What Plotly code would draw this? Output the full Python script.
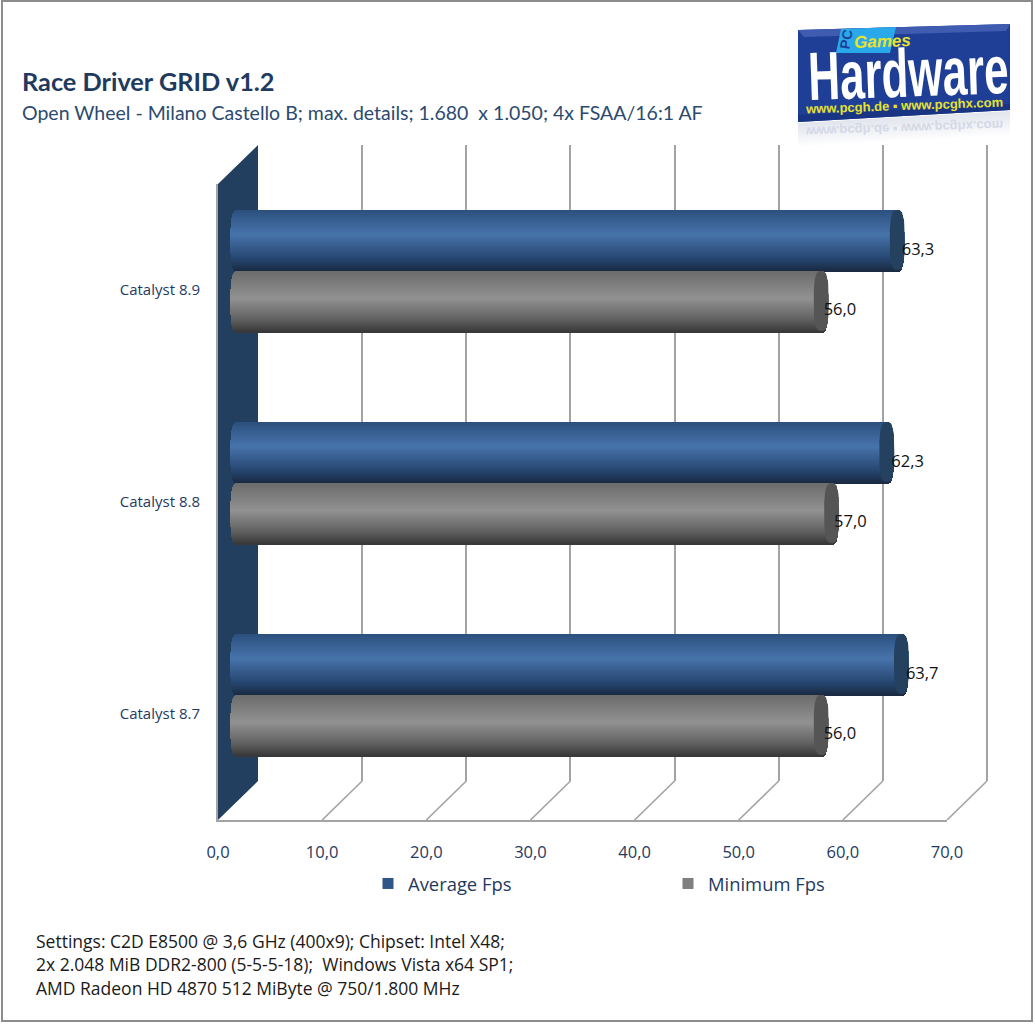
import numpy as np
import plotly.graph_objects as go

W, H = 1035, 1024
categories = ["Catalyst 8.7", "Catalyst 8.8", "Catalyst 8.9"]
average_fps = [63.7, 62.3, 63.3]
minimum_fps = [56.0, 57.0, 56.0]
x_ticks = [0, 10, 20, 30, 40, 50, 60, 70]
x_tick_labels = ["0,0", "10,0", "20,0", "30,0", "40,0", "50,0", "60,0", "70,0"]
title = "Race Driver GRID v1.2"
subtitle = "Open Wheel - Milano Castello B; max. details; 1.680  x 1.050; 4x FSAA/16:1 AF"
settings = ["Settings: C2D E8500 @ 3,6 GHz (400x9); Chipset: Intel X48;",
            "2x 2.048 MiB DDR2-800 (5-5-5-18);  Windows Vista x64 SP1;",
            "AMD Radeon HD 4870 512 MiByte @ 750/1.800 MHz"]

NAVY = "#1f3a5f"
GRID = "#a3a3a3"
X0, X1, Y0, Y1 = 218, 947, 820, 184   # front plane, pixels
DX3, DY3 = 40, 39                     # depth of the 3D box
PXX = (X1 - X0) / 70
PXY = (Y0 - Y1) / 3


def px(x, y):
    return x / W, 1 - y / H


def dom(shift_x, shift_y, pad=0, extra=0):
    return ([(X0 + shift_x - pad * PXX) / W, (X1 + shift_x + extra * PXX) / W],
            [1 - (Y0 - shift_y) / H, 1 - (Y1 - shift_y) / H])


def path(points):
    return "M" + " L".join(f"{px(a, b)[0]:.5f},{px(a, b)[1]:.5f}" for a, b in points) + " Z"


def lerp_stops(t, stops):
    xs = [s[0] for s in stops]
    return "rgb(%d,%d,%d)" % tuple(np.interp(t, xs, [s[1][i] for s in stops]) for i in range(3))


BLUE = [(0, (44, 80, 126)), (.4, (72, 116, 172)), (.8, (38, 70, 112)), (1, (26, 42, 66))]
GRAY = [(0, (108, 108, 108)), (.45, (146, 146, 146)), (.8, (96, 96, 96)), (1, (56, 56, 56))]
BAR_PX = 61
RX = 7.5 / PXX
N = BAR_PX


def cylinder(values, side, stops, cap):
    """One horizontal bar trace, stacked from thin shaded slices, plus end caps."""
    ys, xs, bases, cols = [], [], [], []
    for i, v in enumerate(values):
        centre = i + side * (BAR_PX / 2) / PXY
        for k in range(N):
            t = (k + .5) / N                       # 0 = top of the bar
            u = abs(2 * t - 1)
            bulge = RX * (1 - u ** 3) ** (1 / 3)
            ys.append(centre + (BAR_PX / 2 - (k + .5)) / PXY)
            bases.append(-bulge)
            xs.append(v + 2 * bulge)
            cols.append(lerp_stops(t, stops))
    out = [go.Bar(orientation="h", y=ys, x=xs, base=bases, width=1.6 / PXY,
                  marker=dict(color=cols, line=dict(width=0)), xaxis="x3", yaxis="y3",
                  showlegend=False, hoverinfo="skip", cliponaxis=False)]
    theta = np.linspace(0, 2 * np.pi, 90)
    for i, v in enumerate(values):
        centre = i + side * (BAR_PX / 2) / PXY
        cx = v + RX * np.sign(np.cos(theta)) * np.abs(np.cos(theta)) ** (2 / 3)
        cy = centre + (BAR_PX / 2 - .5) / PXY * np.sign(np.sin(theta)) * np.abs(np.sin(theta)) ** (2 / 3)
        out.append(go.Scatter(x=cx, y=cy, fill="toself", fillcolor=cap, mode="lines",
                              line=dict(width=0, color=cap), xaxis="x3", yaxis="y3",
                              showlegend=False, hoverinfo="skip", cliponaxis=False))
    return out


fig = go.Figure()

# invisible carriers, so that the back-plane grid and the front-plane axes are drawn
fig.add_trace(go.Scatter(x=[0], y=[0], mode="markers", marker=dict(opacity=0),
                         showlegend=False, hoverinfo="skip"))
fig.add_trace(go.Scatter(x=[0], y=[0], mode="markers", marker=dict(opacity=0), xaxis="x2",
                         yaxis="y2", showlegend=False, hoverinfo="skip"))

# floor diagonals, on a hidden axis with the front plane's scale and room for the depth
dxd, dyd = DX3 / PXX, DY3 / PXY
diag_x, diag_y = [], []
for t in x_ticks[1:]:
    diag_x += [t, t + dxd, None]
    diag_y += [-.5, -.5 + dyd, None]
fig.add_trace(go.Scatter(x=diag_x, y=diag_y, mode="lines", xaxis="x4", yaxis="y4",
                         line=dict(color=GRID, width=1.6), showlegend=False,
                         hoverinfo="skip", cliponaxis=False))

for tr in cylinder(average_fps, 1, BLUE, "#24415f"):
    fig.add_trace(tr)
for tr in cylinder(minimum_fps, -1, GRAY, "#555555"):
    fig.add_trace(tr)

# value labels
for vals, off, gap in ((average_fps, 19.5, 4.5), (minimum_fps, -40.5, 2.5)):
    fig.add_trace(go.Scatter(
        x=[v + gap / PXX for v in vals], y=[i + off / PXY for i in range(3)], mode="text",
        text=[f"{v:.1f}".replace(".", ",") for v in vals], textposition="middle right",
        textfont=dict(family="Open Sans", size=16.5, color="#111111"),
        xaxis="x3", yaxis="y3", showlegend=False, hoverinfo="skip", cliponaxis=False))

# legend entries
for nm, col in (("Average Fps", "#2f5687"), ("Minimum Fps", "#7f7f7f")):
    fig.add_trace(go.Scatter(x=[None], y=[None], mode="markers", name=nm,
                             marker=dict(symbol="square", size=11, color=col)))

xb, yb = dom(DX3, DY3, extra=.5)
xf, yf = dom(0, 0)
xm, ym = dom(20, 19.5, pad=2)
xd, yd = dom(0, 0, extra=5)
tickfont = dict(family="Open Sans", size=16.5, color=NAVY)
hidden = dict(visible=False, fixedrange=True)
fig.update_layout(
    width=W, height=H, autosize=False, margin=dict(l=0, r=0, t=0, b=0, autoexpand=False),
    paper_bgcolor="white", plot_bgcolor="rgba(0,0,0,0)", barmode="overlay", bargap=0,
    xaxis=dict(domain=xb, range=[0, 70.5], tickvals=x_ticks, showgrid=True, gridcolor=GRID,
               gridwidth=1.8, showticklabels=False, zeroline=False, ticks="", anchor="y"),
    yaxis=dict(domain=yb, range=[-.5, 2.5], visible=False, anchor="x"),
    xaxis2=dict(domain=xf, range=[0, 70], tickvals=x_ticks, ticktext=x_tick_labels,
                tickfont=tickfont, showgrid=False, showline=True, linecolor=GRID, linewidth=2,
                zeroline=False, ticks="", anchor="y2", ticklabelstandoff=16),
    yaxis2=dict(domain=yf, range=[-.5, 2.5], tickvals=[0, 1, 2], ticktext=categories,
                tickfont=dict(family="Open Sans", size=15, color=NAVY), showgrid=False,
                showline=True, linecolor=GRID, linewidth=2, zeroline=False, ticks="",
                anchor="x2", ticklabelstandoff=13),
    xaxis3=dict(domain=xm, range=[-2, 70], anchor="y3", **hidden),
    yaxis3=dict(domain=ym, range=[-.5, 2.5], anchor="x3", **hidden),
    xaxis4=dict(domain=xd, range=[0, 75], anchor="y4", **hidden),
    yaxis4=dict(domain=yd, range=[-.5, 2.5], anchor="x4", **hidden),
    legend=dict(orientation="h", x=368 / W, y=1 - 865 / H, xanchor="left", yanchor="top",
                entrywidth=255, entrywidthmode="pixels", itemwidth=30,
                font=dict(family="Open Sans", size=18.4, color=NAVY),
                bgcolor="rgba(0,0,0,0)"),
    showlegend=True,
)

shapes = []
# frame
shapes.append(dict(type="rect", xref="paper", yref="paper", x0=px(2, 0)[0], x1=px(1032, 0)[0],
                   y0=px(0, 1)[1], y1=px(0, 1021)[1], line=dict(color="#8c8c8c", width=2),
                   layer="below"))
# left wall
shapes.append(dict(type="path", xref="paper", yref="paper", layer="below",
                   path=path([(X0, Y1), (X0 + DX3, Y1 - DY3), (X0 + DX3, Y0 - DY3), (X0, Y0)]),
                   fillcolor="#223f5f", line=dict(width=0)))
# logo
for k in range(24):
    shapes.append(dict(type="path", xref="paper", yref="paper", layer="below",
                       path=path([(798, 123 + k), (1010, 111 + k), (1010, 112 + k), (798, 124 + k)]),
                       fillcolor="rgba(120,135,175,%.3f)" % (.22 * (1 - k / 24)), line=dict(width=0)))
shapes.append(dict(type="path", xref="paper", yref="paper",
                   path=path([(798, 30), (1010, 24), (1010, 110), (798, 122)]),
                   fillcolor="#1f3f96", line=dict(width=0)))
shapes.append(dict(type="path", xref="paper", yref="paper",
                   path=path([(798, 30), (1010, 24), (1006, 31), (804, 37)]),
                   fillcolor="#3f5cb0", line=dict(width=0)))
shapes.append(dict(type="path", xref="paper", yref="paper",
                   path=path([(798, 115), (1010, 104), (1010, 110), (798, 122)]),
                   fillcolor="#1a3484", line=dict(width=0)))
shapes.append(dict(type="path", xref="paper", yref="paper",
                   path=path([(841, 29), (896, 27), (890, 53), (836, 53)]),
                   fillcolor="#29a9ea", line=dict(width=0)))
fig.update_layout(shapes=shapes)


def note(x, y, text, family, size, color, bold=False, angle=0, anchor="left", italic=False):
    fig.add_annotation(xref="paper", yref="paper", x=px(x, y)[0], y=px(x, y)[1], text=text,
                       showarrow=False, xanchor=anchor, yanchor="middle", textangle=angle,
                       font=dict(family=family, size=size, color=color,
                                 weight="bold" if bold else "normal",
                                 style="italic" if italic else "normal"))


note(20, 81, title, "Lato", 25.3, NAVY, bold=True)
note(20, 112, subtitle, "Lato", 19.5, "#2b4a70")
for line, y in zip(settings, (941, 964, 988)):
    note(34, y, line, "Open Sans", 17.5, "#1a1a1a")
LOGO_URL = "www.pcgh.de ▪ www.pcghx.com"
note(908, 72, "Hardware", "Liberation Sans", 44, "white", bold=True, angle=-2, anchor="center")
note(904, 105, LOGO_URL, "Liberation Sans", 13, "#e6e22e", bold=True, angle=-2, anchor="center")
note(904, 128, LOGO_URL, "Liberation Sans", 13, "#d5d8e6", bold=True, angle=-2, anchor="center")
note(882, 41, "Games", "Liberation Sans", 17, "#e6e22e", bold=True, angle=-2, anchor="center", italic=True)
note(846, 40, "PC", "Liberation Sans", 14, "#1f3f96", bold=True, angle=-80, anchor="center")

# The logo's wordmark is tall and condensed, and its address has a mirrored reflection:
# both stay real text, stretched or flipped about their own centres.
post = """
document.body.style.margin='0';
document.documentElement.style.overflow='hidden';
function squash(el,sy){
  var b=el.getBBox();var cx=b.x+b.width/2,cy=b.y+b.height/2;
  var t=el.getAttribute('transform')||'';
  el.setAttribute('transform',t+' translate('+cx+','+cy+') scale(1,'+sy+') translate('+(-cx)+','+(-cy)+')');
}
var urls=[];
document.querySelectorAll('.annotation-text').forEach(function(el){
  if(el.textContent==='Hardware'){squash(el,1.55);}
  if(el.textContent.indexOf('www.pcgh.de')===0){urls.push(el);}
});
if(urls.length>1){squash(urls[1],-1);}
"""
fig.write_html("out.html", post_script=post, config={"displayModeBar": False})
